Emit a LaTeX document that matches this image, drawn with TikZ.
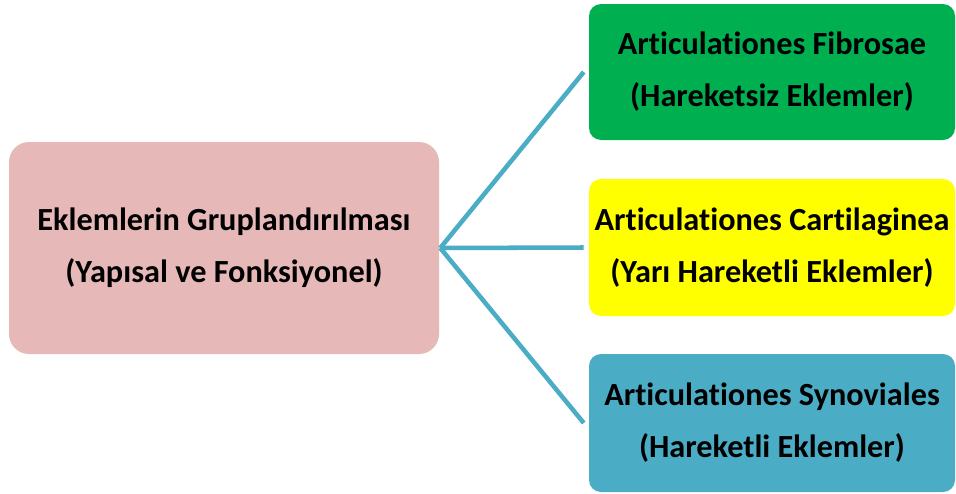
\documentclass[tikz,border=0pt]{standalone}
\usepackage{fontspec}
\setmainfont[Ligatures=NoCommon]{Carlito}
\definecolor{pinkbox}{RGB}{230,185,184}
\definecolor{greenbox}{RGB}{0,176,80}
\definecolor{yellowbox}{RGB}{255,255,0}
\definecolor{tealbox}{RGB}{75,172,198}
\tikzset{
  groupbox/.style={rounded corners=15pt, align=center, inner sep=0pt,
    font=\fontsize{24.2}{39}\selectfont\bfseries},
  branch/.style={draw=tealbox, line width=3.4pt}
}
\begin{document}
\begin{tikzpicture}[x=0.75pt,y=0.75pt,yscale=-1]
\useasboundingbox (0,0) rectangle (956,493);

% Text Node
\node (main) [groupbox, fill=pinkbox, minimum width=322.5pt, minimum height=159pt] at (224,248)
  {Eklemlerin Gruplandırılması\\(Yapısal ve Fonksiyonel)};
% Text Node
\node (fibrous) [groupbox, fill=greenbox, rounded corners=9pt, minimum width=274.5pt, minimum height=102pt] at (772,72)
  {Articulationes Fibrosae\\(Hareketsiz Eklemler)};
% Text Node
\node (cartilage) [groupbox, fill=yellowbox, rounded corners=9pt, minimum width=274.5pt, minimum height=102.75pt] at (772,247.5)
  {Articulationes Cartilaginea\\(Yarı Hareketli Eklemler)};
% Text Node
\node (synovial) [groupbox, fill=tealbox, rounded corners=9pt, minimum width=274.5pt, minimum height=103.5pt] at (772,423)
  {Articulationes Synoviales\\(Hareketli Eklemler)};

%Straight Lines
\coordinate (hub) at ([xshift=0.75pt]main.east);
\draw [branch] (hub) -- ([xshift=-3.75pt]fibrous.west);
\draw [branch] (hub) -- ([xshift=-3.75pt]cartilage.west);
\draw [branch] (hub) -- ([xshift=-3.75pt]synovial.west);

\end{tikzpicture}
\end{document}
